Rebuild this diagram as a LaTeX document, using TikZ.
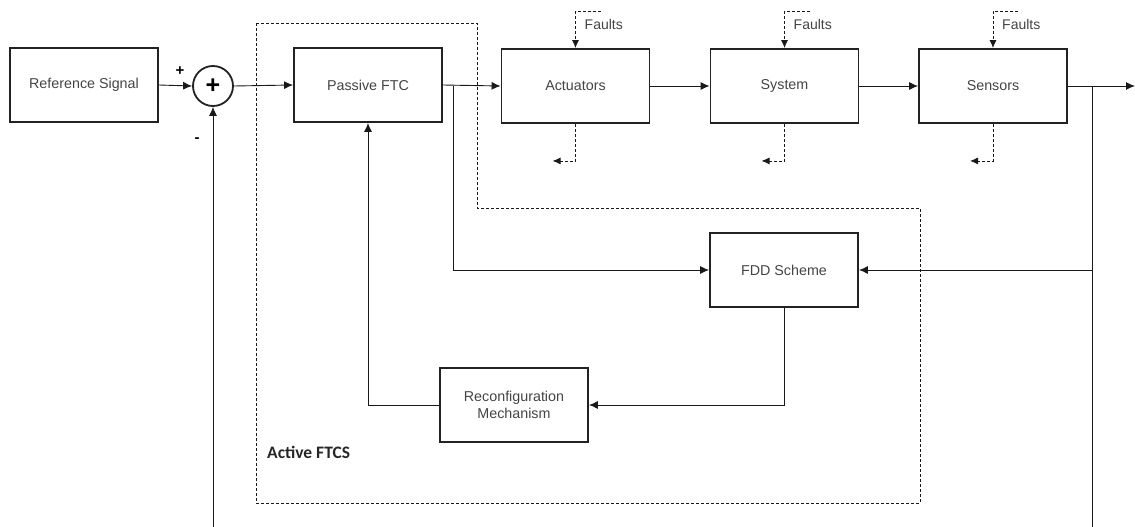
\documentclass[tikz,border=0pt]{standalone}
\usepackage{fontspec}
\setmainfont{Liberation Sans}
\newfontfamily\regionfont{Carlito}
\usetikzlibrary{arrows.meta,calc}

\definecolor{edge}{HTML}{222222}
\definecolor{ink}{HTML}{444444}

\begin{document}
\begin{tikzpicture}[x=1pt,y=-1pt,
  block/.style={draw=edge, line width=1.9pt, minimum width=148pt, minimum height=74pt,
    inner sep=0pt, align=center, text=ink, font=\fontsize{14.3}{17}\selectfont},
  sumnode/.style={circle, draw=edge, line width=1.8pt, minimum size=40pt, inner sep=0pt,
    font=\fontsize{25}{25}\selectfont\bfseries},
  conn/.style={draw=black!90, line width=0.9pt, -{Latex[length=9pt,width=8pt]}},
  plain/.style={draw=black!90, line width=0.9pt},
  fault/.style={draw=black!90, line width=0.9pt, dash pattern=on 3pt off 2pt,
    -{Latex[length=8pt,width=7pt]}},
  region/.style={draw=black!90, line width=0.8pt, dash pattern=on 3pt off 2pt},
  faultlabel/.style={anchor=west, text=ink, inner sep=0pt, font=\fontsize{14}{16}\selectfont},
  sign/.style={inner sep=0pt, font=\fontsize{15}{17}\selectfont\bfseries},
]
\useasboundingbox (0,0) rectangle (1135,527);

% Active FTCS region
\draw[region] (256,23) -- (477,23) -- (477,208) -- (920,208) -- (920,503) -- (256,503) -- cycle;
\node[anchor=west, inner sep=0pt, text=black!85, font=\regionfont\fontsize{17.5}{20}\selectfont\bfseries]
  (activelbl) at (267,452) {Active FTCS};

% Blocks
\node[block] (ref) at (84,85) {Reference Signal};
\node[sumnode] (sum) at (213,86) {+};
\node[block] (pas) at (368,85) {Passive FTC};
\node[block] (act) at (575.5,86) {Actuators};
\node[block] (sys) at (784.5,86) {System};
\node[block] (sen) at (993,86) {Sensors};
\node[block] (fdd) at (784,270) {FDD Scheme};
\node[block] (rec) at (514,405) {Reconfiguration\\Mechanism};

% Summing junction signs
\node[sign] (plus) at (180,71) {+};
\node[sign] (minus) at (197,140) {-};

% Forward path
\draw[conn] (ref.east) -- (sum.west);
\draw[conn] (sum.east) -- (pas.west);
\draw[conn] (pas.east) -- (act.west);
\draw[conn] (act.east) -- (sys.west);
\draw[conn] (sys.east) -- (sen.west);
\coordinate (out) at (1135,86);
\draw[conn] (sen.east) -- (out);

% Branch from controller output to FDD
\coordinate (tapu) at (453,86);
\draw[conn] (tapu) |- (fdd.west);

% Measured output branch to FDD and feedback
\coordinate (tapy) at (1092,86);
\coordinate (bottomy) at (1092,527);
\draw[plain] (tapy) -- (bottomy);
\coordinate (tapfdd) at (1092,270);
\draw[conn] (tapfdd) -- (fdd.east);

% FDD to reconfiguration to passive controller
\draw[conn] (fdd.south) |- (rec.east);
\draw[conn] (rec.west) -| (pas.south);

% Feedback into summing junction
\coordinate (bottomfb) at (213,527);
\draw[conn] (bottomfb) -- (sum.south);

% Fault inputs and outputs
\foreach \b in {act,sys,sen}{
  \coordinate (\b fin) at ($(\b.north)+(25,-37)$);
  \draw[fault] (\b fin) -| (\b.north);
  \node[faultlabel] (\b flbl) at ($(\b.north)+(9,-24)$) {Faults};
  \coordinate (\b fout) at ($(\b.south)+(-23,37)$);
  \draw[fault] (\b.south) |- (\b fout);
}
\end{tikzpicture}
\end{document}
